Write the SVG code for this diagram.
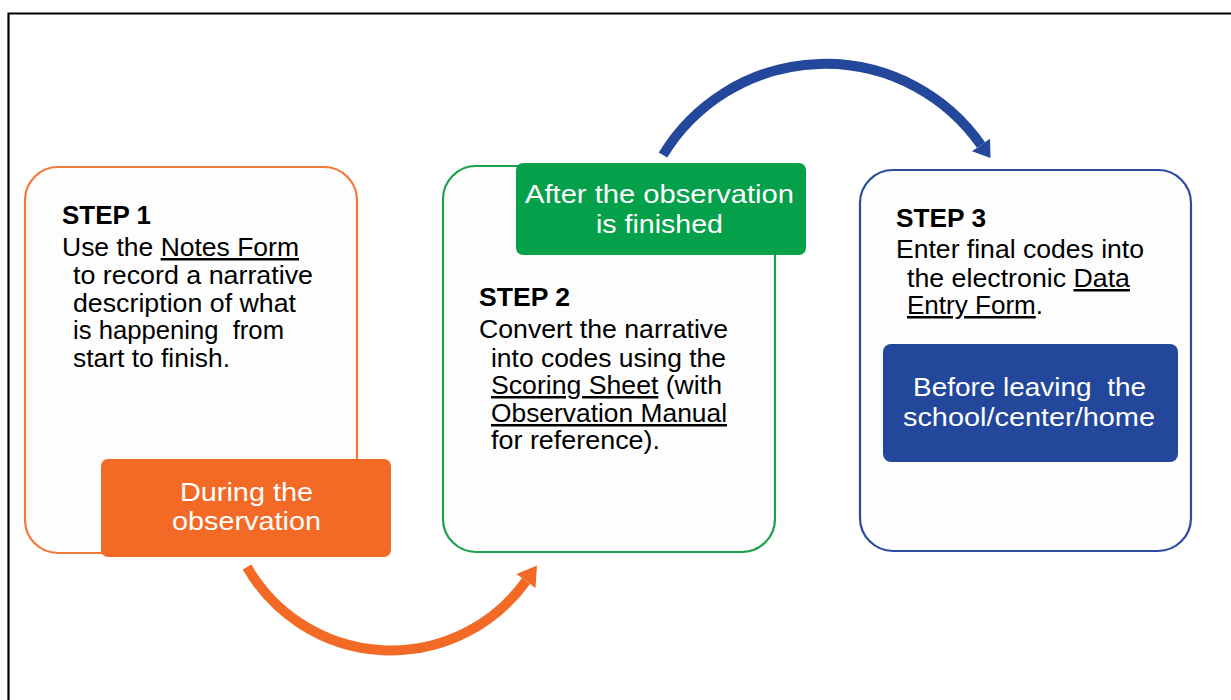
<svg xmlns="http://www.w3.org/2000/svg" width="1231" height="700" viewBox="0 0 1231 700">
<style>
.frame{fill:none;stroke:#000;stroke-width:2.2}
.box{fill:#fdfdfd;stroke-width:2.2}
.t{font-family:"Liberation Sans",Arial,sans-serif;font-size:25px;fill:#000}
.b{font-weight:bold}
.lbl{font-family:"Liberation Sans",Arial,sans-serif;font-size:26.5px;fill:#fff;text-anchor:middle}
.u{text-decoration:underline}
.arc{fill:none;stroke-width:10}
</style>
<rect width="1231" height="700" fill="#fff"/>
<path class="frame" d="M8.5,700 V13.5 H1231"/>

<g id="connectors">
  <path class="arc" stroke="#22479b" d="M663,155 A190,190 0 0,1 981,145"/>
  <polygon fill="#22479b" points="990.5,158 990,138.7 972,151.3"/>
  <path class="arc" stroke="#f26a25" d="M247,567 A166,166 0 0,0 526,581"/>
  <polygon fill="#f26a25" points="537,565.6 535.5,588 516.5,574"/>
</g>

<g id="step1">
  <rect class="box" stroke="#f07a38" x="25" y="167" width="332" height="386" rx="33"/>
  <text class="t b" x="62" y="224" textLength="89" lengthAdjust="spacingAndGlyphs">STEP 1</text>
  <text class="t" x="62" y="256" textLength="237" lengthAdjust="spacingAndGlyphs">Use the <tspan class="u">Notes Form</tspan></text>
  <text class="t" x="73" y="284" textLength="240" lengthAdjust="spacingAndGlyphs">to record a narrative</text>
  <text class="t" x="73" y="312" textLength="223" lengthAdjust="spacingAndGlyphs">description of what</text>
  <text class="t" x="73" y="339" textLength="211" lengthAdjust="spacingAndGlyphs" xml:space="preserve">is happening  from</text>
  <text class="t" x="73" y="367" textLength="157" lengthAdjust="spacingAndGlyphs">start to finish.</text>
</g>
<g id="label-during">
  <rect fill="#f26a25" x="101" y="459" width="290" height="98" rx="7"/>
  <text class="lbl" x="246.5" y="501" textLength="133" lengthAdjust="spacingAndGlyphs">During the</text>
  <text class="lbl" x="246.5" y="530" textLength="149" lengthAdjust="spacingAndGlyphs">observation</text>
</g>

<g id="step2">
  <rect class="box" stroke="#1ca24c" x="443" y="166" width="332" height="386" rx="33"/>
  <text class="t b" x="479" y="306" textLength="91" lengthAdjust="spacingAndGlyphs">STEP 2</text>
  <text class="t" x="479" y="338" textLength="249" lengthAdjust="spacingAndGlyphs">Convert the narrative</text>
  <text class="t" x="491" y="367" textLength="235" lengthAdjust="spacingAndGlyphs">into codes using the</text>
  <text class="t" x="491" y="394" textLength="231" lengthAdjust="spacingAndGlyphs"><tspan class="u">Scoring Sheet</tspan> (with</text>
  <text class="t" x="491" y="422" textLength="236" lengthAdjust="spacingAndGlyphs"><tspan class="u">Observation Manual</tspan></text>
  <text class="t" x="491" y="449" textLength="169" lengthAdjust="spacingAndGlyphs">for reference).</text>
</g>
<g id="label-after">
  <rect fill="#04a04a" x="516" y="163" width="290" height="92" rx="7"/>
  <text class="lbl" x="659.5" y="203" textLength="269" lengthAdjust="spacingAndGlyphs">After the observation</text>
  <text class="lbl" x="659.5" y="233" textLength="127" lengthAdjust="spacingAndGlyphs">is finished</text>
</g>

<g id="step3">
  <rect class="box" stroke="#2a4b9e" x="860" y="170" width="331" height="381" rx="33"/>
  <text class="t b" x="896" y="227" textLength="90" lengthAdjust="spacingAndGlyphs">STEP 3</text>
  <text class="t" x="896" y="258" textLength="248" lengthAdjust="spacingAndGlyphs">Enter final codes into</text>
  <text class="t" x="907" y="287" textLength="223" lengthAdjust="spacingAndGlyphs">the electronic <tspan class="u">Data</tspan></text>
  <text class="t" x="907" y="314" textLength="136" lengthAdjust="spacingAndGlyphs"><tspan class="u">Entry Form</tspan>.</text>
</g>
<g id="label-before">
  <rect fill="#22479b" x="883" y="344" width="295" height="118" rx="8"/>
  <text class="lbl" x="1029.5" y="396" textLength="233" lengthAdjust="spacingAndGlyphs" xml:space="preserve">Before leaving  the</text>
  <text class="lbl" x="1029" y="426" textLength="252" lengthAdjust="spacingAndGlyphs">school/center/home</text>
</g>
</svg>
